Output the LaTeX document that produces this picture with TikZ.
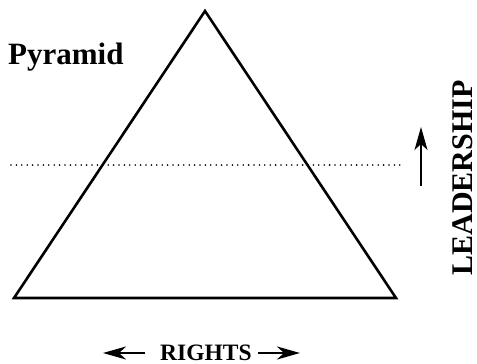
\documentclass[tikz,border=0pt]{standalone}
\usepackage{fontspec}
\setmainfont{Liberation Serif}
\usetikzlibrary{arrows.meta}
\begin{document}
\begin{tikzpicture}[x=1pt,y=-1pt,
  lbl/.style={inner sep=0pt,font=\bfseries},
  edge/.style={line width=2.6pt,line join=miter},
  dots/.style={line width=1.8pt,line cap=round,dash pattern=on 0pt off 5.4pt},
  bigarrow/.style={line width=2.6pt,-{Stealth[length=23pt,width=13pt,inset=7pt]}},
  thinarrow/.style={line width=1.3pt,-{Stealth[length=23pt,width=13pt,inset=6pt]}}]
\useasboundingbox (0,0) rectangle (477,364);
\coordinate (apex) at (205,11);
\coordinate (bl) at (14,298);
\coordinate (br) at (396,298);
\draw[edge] (apex) -- (br) -- (bl) -- cycle;
\coordinate (dl) at (11,165);
\coordinate (dr) at (403,165);
\draw[dots] (dl) -- (dr);
\coordinate (ua) at (421,186);
\coordinate (ub) at (421,127);
\draw[thinarrow] (ua) -- (ub);
\node[lbl,anchor=base west,font=\fontsize{31}{31}\selectfont\bfseries] (pyr) at (8,64) {Pyramid};
\node[lbl,anchor=base,rotate=90,font=\fontsize{30}{30}\selectfont\bfseries] (lead) at (472,178) {LEADERSHIP};
\node[lbl,anchor=base west,font=\fontsize{23.5}{24}\selectfont\bfseries] (rights) at (160,360) {RIGHTS};
\coordinate (la) at (145,353);
\coordinate (lb) at (103,353);
\coordinate (ra) at (258,353);
\coordinate (rb) at (300,353);
\draw[bigarrow] (la) -- (lb);
\draw[bigarrow] (ra) -- (rb);
\end{tikzpicture}
\end{document}
